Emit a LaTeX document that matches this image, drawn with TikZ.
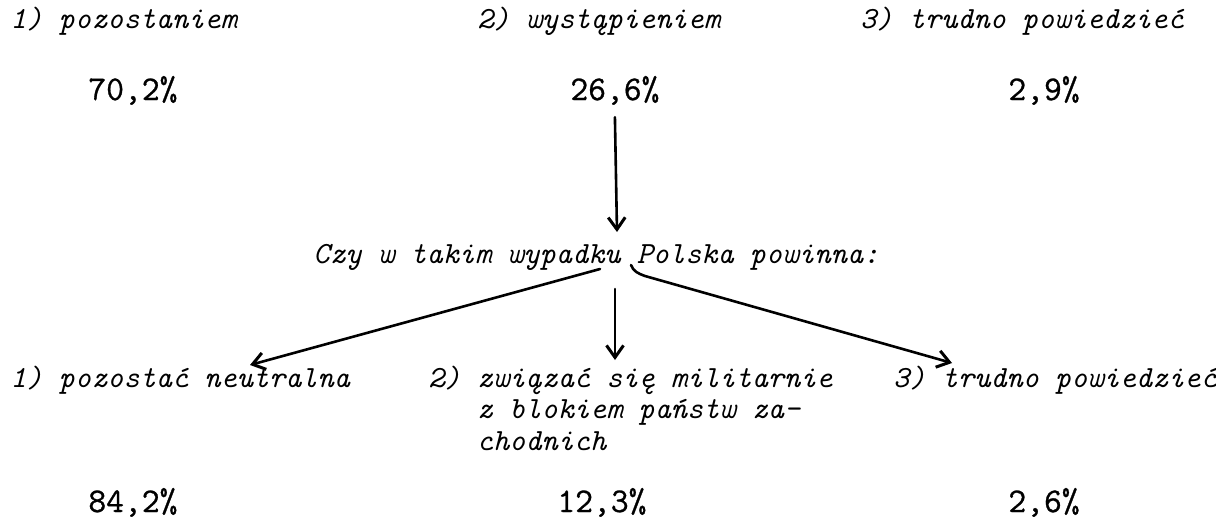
\documentclass[tikz,border=0pt]{standalone}
\usepackage{fontspec}
\usetikzlibrary{arrows.meta}
% heavier typewriter face for the percentages
\newfontfamily\pctfont{Latin Modern Mono}[FakeBold=0.8]
\begin{document}
\begin{tikzpicture}[x=0.5pt,y=-0.5pt,
  lbl/.style={anchor=base west,inner sep=0pt,
    font=\fontsize{15.4}{15.8}\selectfont\ttfamily\itshape},
  num/.style={anchor=base west,inner sep=0pt,
    font=\fontsize{17.3}{18}\selectfont\pctfont},
  arr/.style={line width=1.3pt,line cap=round,
    -{Straight Barb[length=6pt,width=8.5pt,line width=1.5pt]}}]
\useasboundingbox (0,0) rectangle (1216,521);

% first question: answers and shares
\node[lbl] (a1) at (10,28)  {1) pozostaniem};
\node[lbl] (a2) at (477,28) {2) wystąpieniem};
\node[lbl] (a3) at (860,28) {3) trudno powiedzieć};
\node[num] (p1) at (88,100)   {70,2\%};
\node[num] (p2) at (570,100)  {26,6\%};
\node[num] (p3) at (1008,100) {2,9\%};

% follow-up question
\node[lbl] (q) at (313,263) {Czy w takim wypadku Polska powinna:};
\coordinate (qin) at (617,232);
\coordinate (qL) at (600,269);
\coordinate (qM) at (615,289);
\coordinate (qR) at (631,265);

% second question: answers and shares
\node[lbl] (b1) at (10,387)  {1) pozostać neutralna};
\node[lbl] (b2) at (428,387) {\begin{tabular}[t]{@{}l@{}}
  2) związać się militarnie\\
  \phantom{2) }z blokiem państw za-\\
  \phantom{2) }chodnich\end{tabular}};
\node[lbl] (b3) at (893,387) {3) trudno powiedzieć};
\coordinate (tL) at (250,365);
\coordinate (tM) at (615,360);
\coordinate (tR) at (952,363);
\node[num] (r1) at (88,512)   {84,2\%};
\node[num] (r2) at (557,512)  {12,3\%};
\node[num] (r3) at (1008,512) {2,6\%};

% connectors
\draw[arr] ([yshift=-6pt]p2.south) -- (qin);
\draw[arr] (qL) -- (tL);
\draw[arr] (qM) -- (tM);
\draw[arr] (qR) to[out=-70,in=160] ++(14,11) -- (tR);
\end{tikzpicture}
\end{document}
